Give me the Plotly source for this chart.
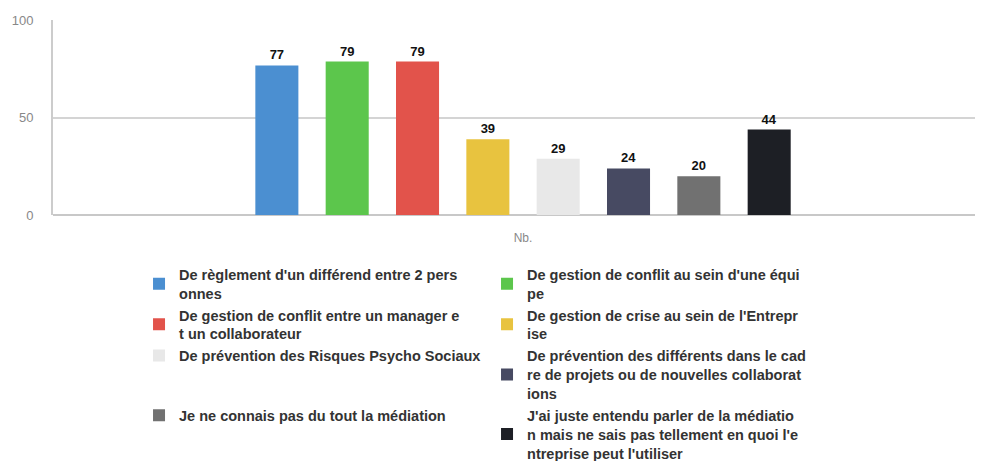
import plotly.graph_objects as go

categories = ["Nb."]
series_names = [
    "De règlement d'un différend entre 2 pers<br>onnes",
    "De gestion de conflit au sein d'une équi<br>pe",
    "De gestion de conflit entre un manager e<br>t un collaborateur",
    "De gestion de crise au sein de l'Entrepr<br>ise",
    "De prévention des Risques Psycho Sociaux",
    "De prévention des différents dans le cad<br>re de projets ou de nouvelles collaborat<br>ions",
    "Je ne connais pas du tout la médiation",
    "J'ai juste entendu parler de la médiatio<br>n mais ne sais pas tellement en quoi l'e<br>ntreprise peut l'utiliser",
]
series_values = [77, 79, 79, 39, 29, 24, 20, 44]
series_colors = ["#4b8fd1", "#5cc64c", "#e2534b", "#e8c33f", "#e8e8e8", "#474a62", "#717171", "#1d1f25"]
y_ticks = [0, 50, 100]

fig = go.Figure()
for name, val, col in zip(series_names, series_values, series_colors):
    fig.add_trace(go.Bar(
        x=categories, y=[val], name=name,
        marker=dict(color=col, line=dict(width=0)),
        text=[str(val)], textposition="outside",
        textfont=dict(family="Liberation Sans", size=13, color="#111111", weight="bold"),
        cliponaxis=False,
    ))

# page body has an 8px default margin: the figure is sized to fit the window
fig.update_layout(
    width=975, height=453,
    margin=dict(l=45, r=0, t=12, b=246, autoexpand=False),
    paper_bgcolor="white", plot_bgcolor="white",
    barmode="group", bargap=0.395, bargroupgap=0.388,
    font=dict(family="Liberation Sans", color="#333333"),
    showlegend=True,
    legend=dict(
        orientation="h", x=0.0925, xanchor="left", y=-0.222, yanchor="top",
        entrywidth=303, entrywidthmode="pixels",
        font=dict(family="Liberation Sans", size=14.5, color="#333333", weight="bold"),
        tracegroupgap=0, traceorder="normal",
    ),
    xaxis=dict(
        range=[-0.5054, 0.4946],
        showgrid=False, showline=False, zeroline=False, automargin=False,
        tickfont=dict(size=12, color="#888888"), ticks="", ticklabelstandoff=14,
    ),
    yaxis=dict(
        range=[0, 100.4], tickvals=y_ticks, showgrid=True, gridcolor="#d4d4d4", gridwidth=1.5,
        showline=True, linecolor="#cccccc", linewidth=2, zeroline=True, zerolinecolor="#c8c8c8", zerolinewidth=2,
        tickfont=dict(size=13, color="#888888"), ticklabelstandoff=15, automargin=False,
    ),
)

fig.write_html("out.html")
